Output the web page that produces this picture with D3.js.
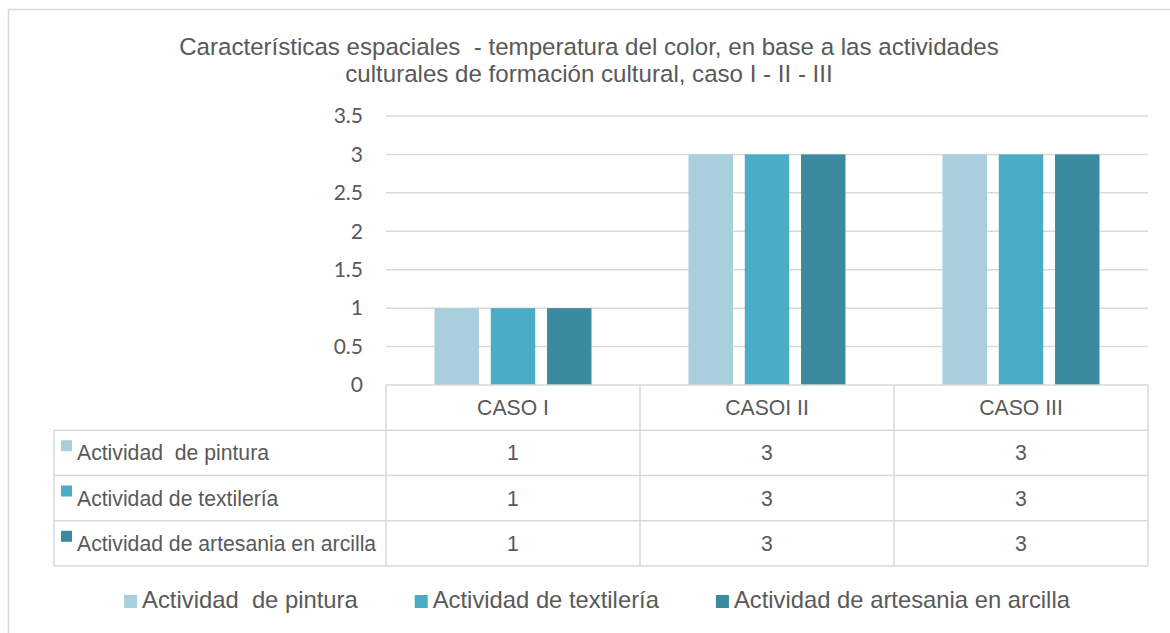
<!DOCTYPE html>
<html>
<head>
<meta charset="utf-8">
<script src="https://cdn.jsdelivr.net/npm/d3@7"></script>
<style>
  html, body { margin: 0; padding: 0; background: #fff; }
  svg { display: block; }
  text { fill: #595959; font-family: "Liberation Sans", Arial, sans-serif; white-space: pre; }
</style>
</head>
<body>
<svg id="chart" width="1170" height="633"></svg>
<script>
// Chart data
const categories = ["CASO I", "CASOI II", "CASO III"];
const seriesNames = ["Actividad  de pintura", "Actividad de textilería", "Actividad de artesania en arcilla"];
const pintura = [1, 3, 3];
const textileria = [1, 3, 3];
const artesania = [1, 3, 3];
const yTicks = [0, 0.5, 1, 1.5, 2, 2.5, 3, 3.5];
const titleLines = [
  "Características espaciales  - temperatura del color, en base a las actividades",
  "culturales de formación cultural, caso I - II - III"
];

const seriesValues = [pintura, textileria, artesania];
const colors = ["#A9CEDC", "#4BACC6", "#3B8BA0"];
const gridColor = "#D9D9D9";

const svg = d3.select("#chart");

// Outer chart frame
svg.append("rect")
  .attr("x", 8.5).attr("y", 9.5)
  .attr("width", 1200).attr("height", 700)
  .attr("fill", "none").attr("stroke", gridColor).attr("stroke-width", 1.5);

// Title
const title = svg.append("text")
  .attr("text-anchor", "middle")
  .attr("xml:space", "preserve")
  .style("font-size", "24.1px");
titleLines.forEach((t, i) => {
  title.append("tspan").attr("x", 589).attr("y", 55 + i * 27).text(t);
});

// Plot area
const plot = { left: 386, right: 1148, top: 116, bottom: 385 };

const y = d3.scaleLinear().domain([0, 3.5]).range([plot.bottom, plot.top]);
const x0 = d3.scaleBand().domain(categories)
  .range([plot.left, plot.right])
  .paddingInner(0.382).paddingOuter(0.191);
const x1 = d3.scaleBand().domain(d3.range(seriesNames.length))
  .range([0, x0.bandwidth()]).paddingInner(0.21);

// Gridlines
svg.append("g")
  .selectAll("line")
  .data(yTicks.filter(d => d > 0))
  .join("line")
  .attr("x1", plot.left).attr("x2", plot.right)
  .attr("y1", d => y(d)).attr("y2", d => y(d))
  .attr("stroke", gridColor).attr("stroke-width", 1.5);

// Y axis labels
const yAxis = d3.axisLeft(y).tickValues(yTicks).tickSize(0).tickPadding(0)
  .tickFormat(d3.format("~g"));
const yg = svg.append("g").attr("transform", `translate(${plot.left - 23},0)`).call(yAxis);
yg.select(".domain").remove();
yg.selectAll("text")
  .style("font-family", "Lato, 'Open Sans', sans-serif")
  .style("font-size", "21px")
  .attr("fill", "#595959");

// Bars
const groups = svg.append("g").selectAll("g")
  .data(categories)
  .join("g")
  .attr("transform", d => `translate(${x0(d)},0)`);
groups.selectAll("rect")
  .data((d, ci) => seriesValues.map((vals, si) => ({ si, v: vals[ci] })))
  .join("rect")
  .attr("x", d => x1(d.si))
  .attr("width", x1.bandwidth())
  .attr("y", d => y(d.v))
  .attr("height", d => y(0) - y(d.v))
  .attr("fill", d => colors[d.si]);

// Data table below the axis
const table = svg.append("g");
const rowH = 45.25;
const tableTop = plot.bottom;
const labelLeft = 54;
const tableBottom = tableTop + rowH * (seriesNames.length + 1);
const step = x0.step();
const colX = d3.range(categories.length + 1).map(i => plot.left + i * step);
const tableFont = "21.2px";

// horizontal rules
table.append("line")
  .attr("x1", plot.left).attr("x2", plot.right)
  .attr("y1", tableTop).attr("y2", tableTop)
  .attr("stroke", gridColor).attr("stroke-width", 1.5);
d3.range(1, seriesNames.length + 2).forEach(i => {
  table.append("line")
    .attr("x1", labelLeft).attr("x2", plot.right)
    .attr("y1", tableTop + i * rowH).attr("y2", tableTop + i * rowH)
    .attr("stroke", gridColor).attr("stroke-width", 1.5);
});
// vertical rules
table.append("line")
  .attr("x1", labelLeft).attr("x2", labelLeft)
  .attr("y1", tableTop + rowH).attr("y2", tableBottom)
  .attr("stroke", gridColor).attr("stroke-width", 1.5);
colX.forEach(cx => {
  table.append("line")
    .attr("x1", cx).attr("x2", cx)
    .attr("y1", tableTop).attr("y2", tableBottom)
    .attr("stroke", gridColor).attr("stroke-width", 1.5);
});

// header row
table.selectAll("text.head")
  .data(categories)
  .join("text")
  .attr("class", "head")
  .attr("x", d => x0(d) + x0.bandwidth() / 2)
  .attr("y", tableTop + rowH / 2)
  .attr("dy", "0.35em")
  .attr("text-anchor", "middle")
  .style("font-size", tableFont)
  .text(d => d);

// series rows
seriesNames.forEach((name, si) => {
  const top = tableTop + rowH * (si + 1);
  table.append("rect")
    .attr("x", 61).attr("y", top + 10)
    .attr("width", 11).attr("height", 11)
    .attr("fill", colors[si]);
  table.append("text")
    .attr("x", 77).attr("y", top + rowH / 2)
    .attr("dy", "0.35em")
    .attr("xml:space", "preserve")
    .style("font-size", tableFont)
    .text(name);
  categories.forEach((c, ci) => {
    table.append("text")
      .attr("x", x0(c) + x0.bandwidth() / 2)
      .attr("y", top + rowH / 2)
      .attr("dy", "0.35em")
      .attr("text-anchor", "middle")
      .style("font-size", tableFont)
      .text(seriesValues[si][ci]);
  });
});

// Legend
const legend = svg.append("g");
const legendBaseline = 608;
const items = legend.selectAll("g")
  .data(seriesNames)
  .join("g");
items.append("rect")
  .attr("width", 13).attr("height", 13)
  .attr("y", legendBaseline - 13)
  .attr("fill", (d, i) => colors[i]);
items.append("text")
  .attr("x", 18)
  .attr("y", legendBaseline)
  .attr("xml:space", "preserve")
  .style("font-size", "23.8px")
  .text(d => d);
// lay items out side by side, centred
const widths = [];
items.each(function () {
  widths.push(18 + this.querySelector("text").getComputedTextLength());
});
const gap = 57;
const total = d3.sum(widths) + gap * (widths.length - 1);
let cursor = 597 - total / 2;
items.attr("transform", (d, i) => {
  const tx = cursor;
  cursor += widths[i] + gap;
  return `translate(${tx},0)`;
});
</script>
</body>
</html>
